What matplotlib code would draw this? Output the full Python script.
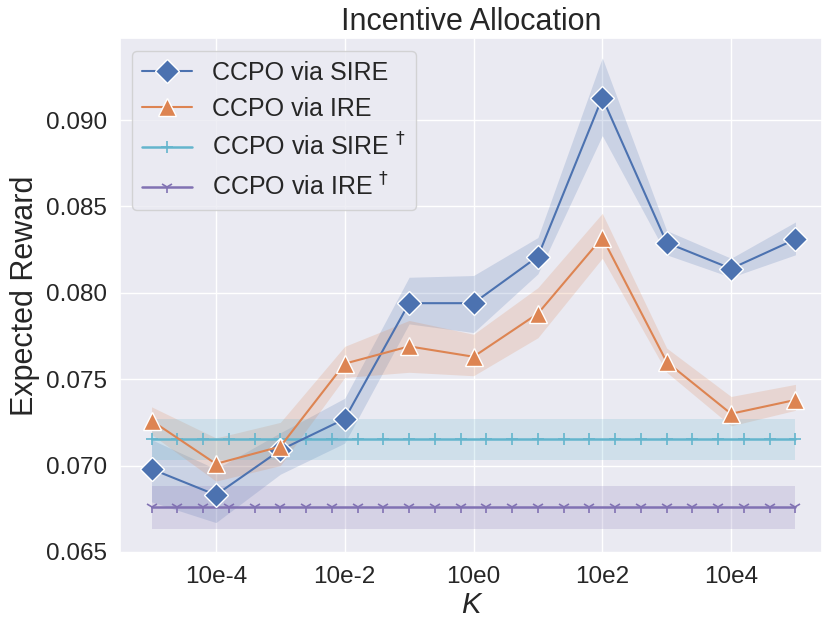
import numpy as np
import matplotlib
matplotlib.use("Agg")
import matplotlib.pyplot as plt
import seaborn as sns
from matplotlib.ticker import NullLocator

# kappa values (x axis, log scale)
kappa = [1e-5, 1e-4, 1e-3, 1e-2, 1e-1, 1e0, 1e1, 1e2, 1e3, 1e4, 1e5]

# CCPO via SIRE
sire_mean = [0.0698, 0.0683, 0.0709, 0.0727, 0.0794, 0.0794, 0.0821, 0.0913, 0.0829, 0.0814, 0.0831]
sire_low = [0.0679, 0.0667, 0.0695, 0.0713, 0.0782, 0.0777, 0.0811, 0.0891, 0.0822, 0.0809, 0.0822]
sire_high = [0.0715, 0.0698, 0.0719, 0.0739, 0.0809, 0.0810, 0.0832, 0.0936, 0.0836, 0.0820, 0.0841]

# CCPO via IRE
ire_mean = [0.0726, 0.0701, 0.0711, 0.0759, 0.0769, 0.0763, 0.0788, 0.0832, 0.0760, 0.0730, 0.0738]
ire_low = [0.0718, 0.0691, 0.0700, 0.0751, 0.0754, 0.0752, 0.0774, 0.0820, 0.0754, 0.0723, 0.0732]
ire_high = [0.0734, 0.0716, 0.0725, 0.0769, 0.0784, 0.0776, 0.0803, 0.0846, 0.0768, 0.0740, 0.0747]

# dagger baselines (constant over kappa)
base_exp = [-5.0, -4.6, -4.2, -3.8, -3.4, -3.0, -2.6, -2.2, -1.8, -1.4, -1.0, -0.6, -0.2,
            0.2, 0.6, 1.0, 1.4, 1.8, 2.2, 2.6, 3.0, 3.4, 3.8, 4.2, 4.6, 5.0]
base_x = [10 ** e for e in base_exp]
sire_dag = 0.07153
sire_dag_band = (0.0703, 0.0727)
ire_dag = 0.0676
ire_dag_band = (0.06633, 0.0688)

xtick_pos = [1e-4, 1e-2, 1e0, 1e2, 1e4]
xtick_lab = ["10e-4", "10e-2", "10e0", "10e2", "10e4"]

sns.set_theme(style="darkgrid")
plt.rcParams['font.family'] = ['Liberation Sans', 'DejaVu Sans']

pal = sns.color_palette("deep")
c_blue, c_orange, c_cyan, c_purple = pal[0], pal[1], pal[9], pal[4]

fig = plt.figure(figsize=(8.31, 6.24), dpi=100)
ax = fig.add_axes([0.1444, 0.1138, 0.8446, 0.8253])

ax.set_xscale("log")

# bands
ax.fill_between(kappa, sire_low, sire_high, color=c_blue, alpha=0.2, lw=0, zorder=1)
ax.fill_between(kappa, ire_low, ire_high, color=c_orange, alpha=0.2, lw=0, zorder=1)
ax.fill_between([base_x[0], base_x[-1]], [sire_dag_band[0]] * 2, [sire_dag_band[1]] * 2,
                color=c_cyan, alpha=0.2, lw=0, zorder=1)
ax.fill_between([base_x[0], base_x[-1]], [ire_dag_band[0]] * 2, [ire_dag_band[1]] * 2,
                color=c_purple, alpha=0.2, lw=0, zorder=1)

l1, = ax.plot(kappa, sire_mean, color=c_blue, marker="D", ms=12.5, mec="white", mew=1,
              lw=1.5, zorder=4, label="CCPO via SIRE")
l2, = ax.plot(kappa, ire_mean, color=c_orange, marker="^", ms=12.5, mec="white", mew=1,
              lw=1.5, zorder=5, label="CCPO via IRE")
l3, = ax.plot(base_x, [sire_dag] * len(base_x), color=c_cyan, marker="+", ms=9, mew=1.2,
              lw=1.8, zorder=3, label="CCPO via SIRE $^{\\dagger}$")
l4, = ax.plot(base_x, [ire_dag] * len(base_x), color=c_purple, marker="1", ms=9, mew=1.2,
              lw=1.8, zorder=3, label="CCPO via IRE $^{\\dagger}$")

ax.set_xlim(10 ** -5.49, 10 ** 5.41)
ax.set_ylim(0.06494, 0.09475)
ax.set_xticks(xtick_pos)
ax.set_xticklabels(xtick_lab)
ax.xaxis.set_minor_locator(NullLocator())
ax.set_yticks([0.065, 0.070, 0.075, 0.080, 0.085, 0.090])
ax.set_yticklabels(["0.065", "0.070", "0.075", "0.080", "0.085", "0.090"])
ax.tick_params(axis="both", labelsize=17.5, colors="#262626")

ax.set_title("Incentive Allocation", fontsize=22, color="#262626")
ax.set_ylabel("Expected Reward", fontsize=22, color="#262626")
ax.set_xlabel("K", fontsize=21, fontstyle="italic", color="#262626", labelpad=2)

ax.legend(loc="upper left", fontsize=18)

fig.savefig("out.png", dpi=100)
